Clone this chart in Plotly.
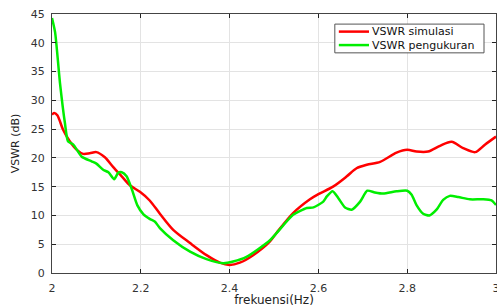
import plotly.graph_objects as go

# VSWR simulasi (red)
freq_sim = [2.0, 2.005, 2.012, 2.025, 2.04, 2.056, 2.07, 2.085, 2.10, 2.119, 2.138, 2.157, 2.176, 2.198,
            2.22, 2.243, 2.273, 2.311, 2.348, 2.378, 2.40, 2.423, 2.453, 2.491, 2.506, 2.543, 2.581,
            2.60, 2.633, 2.664, 2.686, 2.709, 2.739, 2.776, 2.80, 2.821, 2.847, 2.874, 2.90, 2.926,
            2.953, 2.975, 3.0]
vswr_sim = [27.5, 27.8, 27.4, 24.9, 22.9, 21.4, 20.7, 20.8, 21.0, 20.1, 18.4, 16.8, 15.2, 14.1,
            12.6, 10.3, 7.5, 5.2, 3.1, 1.8, 1.4, 1.8, 3.1, 5.5, 7.0, 10.4, 12.8,
            13.7, 15.0, 16.8, 18.2, 18.8, 19.3, 20.9, 21.4, 21.1, 21.1, 22.1, 22.8, 21.7,
            21.0, 22.3, 23.7]

# VSWR pengukuran (green)
freq_meas = [2.0, 2.007, 2.018, 2.029, 2.036, 2.048, 2.067, 2.089, 2.10, 2.116, 2.127, 2.14, 2.149,
             2.157, 2.168, 2.18, 2.192, 2.206, 2.22, 2.232, 2.243, 2.273, 2.311, 2.348, 2.386,
             2.408, 2.438, 2.491, 2.543, 2.574, 2.589, 2.611, 2.619, 2.632, 2.645, 2.66, 2.675,
             2.694, 2.71, 2.727, 2.746, 2.776, 2.80, 2.81, 2.821, 2.836, 2.85, 2.866, 2.881,
             2.896, 2.915, 2.941, 2.971, 2.99, 3.0]
vswr_meas = [44.3, 41.8, 33.0, 26.1, 22.9, 22.3, 20.2, 19.4, 19.0, 17.9, 17.5, 16.3, 17.4,
             17.5, 16.8, 14.5, 11.8, 10.2, 9.4, 8.9, 7.8, 5.7, 3.7, 2.4, 1.7,
             2.0, 2.8, 5.7, 10.1, 11.3, 11.4, 12.4, 13.3, 14.2, 13.0, 11.4, 11.0,
             12.4, 14.3, 14.0, 13.8, 14.2, 14.3, 13.6, 11.8, 10.3, 10.0, 11.0, 12.7,
             13.4, 13.2, 12.8, 12.8, 12.6, 11.8]

x_ticks = [2, 2.2, 2.4, 2.6, 2.8, 3]
y_ticks = [0, 5, 10, 15, 20, 25, 30, 35, 40, 45]

series_names = ["VSWR simulasi", "VSWR pengukuran"]
series_colors = ["#ff0000", "#00ee00"]

FONT = "DejaVu Sans"

fig = go.Figure()
fig.add_trace(go.Scatter(x=freq_sim, y=vswr_sim, mode="lines", name=series_names[0],
                         line=dict(color=series_colors[0], width=2.5, shape="spline", smoothing=0.8)))
fig.add_trace(go.Scatter(x=freq_meas, y=vswr_meas, mode="lines", name=series_names[1],
                         line=dict(color=series_colors[1], width=2.5, shape="spline", smoothing=0.6)))

axis_common = dict(showline=True, linecolor="#444444", linewidth=1, mirror="ticks",
                   ticks="inside", ticklen=4, tickcolor="#222222", automargin=True,
                   showgrid=True, gridcolor="#e3e3e3", gridwidth=1, zeroline=False,
                   tickfont=dict(family=FONT, size=11, color="#333333"))

# compact legend box (paper coordinates of the plot area: x 52..496, y 14..273 px)
lx0, lx1, ly0, ly1 = 0.637, 0.973, 0.850, 0.961
shapes = [dict(type="rect", xref="paper", yref="paper", x0=lx0, x1=lx1, y0=ly0, y1=ly1,
               line=dict(color="#555555", width=1), fillcolor="white", layer="above")]
annotations = []
row_y = [0.932, 0.880]
for name, color, yy in zip(series_names, series_colors, row_y):
    shapes.append(dict(type="line", xref="paper", yref="paper", x0=lx0 + 0.009, x1=lx0 + 0.077,
                       y0=yy, y1=yy, line=dict(color=color, width=2.5), layer="above"))
    annotations.append(dict(xref="paper", yref="paper", x=lx0 + 0.082, y=yy, text=name,
                            showarrow=False, xanchor="left", yanchor="middle", borderpad=0,
                            font=dict(family=FONT, size=11, color="#111111")))

fig.update_layout(
    width=497, height=307,
    margin=dict(l=52, r=1, t=14, b=34, autoexpand=False),
    paper_bgcolor="white", plot_bgcolor="white",
    showlegend=False,
    shapes=shapes, annotations=annotations,
    xaxis=dict(range=[2, 3], tickvals=x_ticks, ticktext=[str(v) for v in x_ticks],
               ticklabelstandoff=5, ticklabeloverflow="allow",
               title=dict(text="frekuensi(Hz)", standoff=1,
                          font=dict(family=FONT, size=12, color="#222222")),
               **axis_common),
    yaxis=dict(range=[0, 45], tickvals=y_ticks, ticklabelstandoff=4,
               title=dict(text="VSWR (dB)", standoff=8,
                          font=dict(family=FONT, size=11, color="#222222")),
               **axis_common),
)

post = (
    "document.documentElement.style.overflow='hidden';"
    "document.body.style.margin='0';document.body.style.overflow='hidden';"
)
fig.write_html("out.html", config={"displayModeBar": False}, post_script=post)
